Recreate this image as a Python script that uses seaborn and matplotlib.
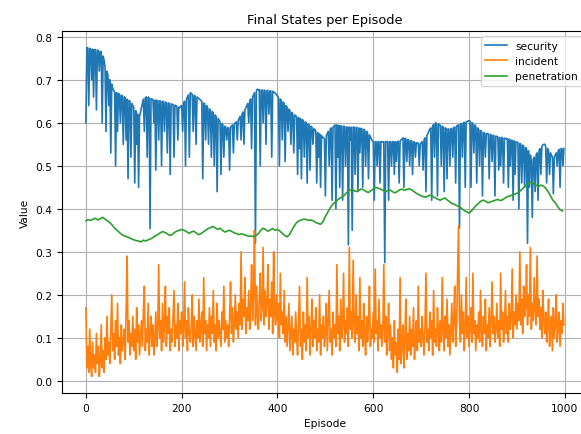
import numpy as np
import pandas as pd
import matplotlib
matplotlib.use("Agg")
import matplotlib.pyplot as plt
import seaborn as sns

sec_episodes = list(range(0, 1000, 2))
inc_episodes = list(range(0, 1000, 2))
pen_episodes = list(range(0, 1000, 5))

security = [
    0.60, 0.775, 0.774, 0.64, 0.773, 0.772, 0.70, 0.771, 0.66, 0.77,
    0.77, 0.63, 0.769, 0.768, 0.72, 0.766, 0.765, 0.60, 0.755, 0.745,
    0.73, 0.58, 0.72, 0.71, 0.64, 0.70, 0.53, 0.69, 0.68, 0.675,
    0.672, 0.50, 0.67, 0.58, 0.668, 0.666, 0.60, 0.664, 0.662, 0.55,
    0.66, 0.658, 0.56, 0.655, 0.47, 0.652, 0.65, 0.52, 0.645, 0.64,
    0.635, 0.46, 0.628, 0.55, 0.62, 0.45, 0.615, 0.625, 0.635, 0.645,
    0.655, 0.58, 0.658, 0.66, 0.52, 0.66, 0.658, 0.354, 0.656, 0.655,
    0.654, 0.60, 0.653, 0.49, 0.652, 0.652, 0.56, 0.651, 0.65, 0.50,
    0.65, 0.649, 0.58, 0.648, 0.647, 0.53, 0.646, 0.645, 0.48, 0.644,
    0.643, 0.642, 0.52, 0.641, 0.64, 0.638, 0.56, 0.636, 0.635, 0.638,
    0.64, 0.58, 0.645, 0.65, 0.50, 0.655, 0.66, 0.665, 0.52, 0.67,
    0.668, 0.666, 0.58, 0.664, 0.662, 0.55, 0.66, 0.658, 0.656, 0.654,
    0.652, 0.65, 0.47, 0.646, 0.644, 0.56, 0.64, 0.636, 0.55, 0.632,
    0.63, 0.52, 0.626, 0.622, 0.50, 0.618, 0.614, 0.44, 0.61, 0.606,
    0.602, 0.48, 0.598, 0.595, 0.52, 0.592, 0.59, 0.56, 0.588, 0.588,
    0.49, 0.59, 0.592, 0.595, 0.53, 0.598, 0.60, 0.602, 0.56, 0.605,
    0.61, 0.615, 0.56, 0.62, 0.625, 0.55, 0.63, 0.635, 0.64, 0.645,
    0.60, 0.65, 0.655, 0.54, 0.66, 0.665, 0.67, 0.32, 0.675, 0.678,
    0.677, 0.677, 0.50, 0.676, 0.676, 0.60, 0.676, 0.675, 0.55, 0.675,
    0.675, 0.62, 0.674, 0.674, 0.52, 0.673, 0.672, 0.67, 0.668, 0.665,
    0.662, 0.66, 0.50, 0.655, 0.652, 0.56, 0.648, 0.645, 0.51, 0.64,
    0.636, 0.58, 0.632, 0.628, 0.55, 0.624, 0.62, 0.53, 0.618, 0.616,
    0.614, 0.48, 0.612, 0.54, 0.61, 0.47, 0.607, 0.605, 0.52, 0.602,
    0.60, 0.46, 0.597, 0.595, 0.49, 0.592, 0.59, 0.55, 0.586, 0.584,
    0.58, 0.46, 0.577, 0.52, 0.574, 0.45, 0.57, 0.567, 0.565, 0.563,
    0.43, 0.57, 0.575, 0.58, 0.50, 0.585, 0.588, 0.42, 0.59, 0.592,
    0.595, 0.40, 0.595, 0.52, 0.594, 0.45, 0.593, 0.592, 0.42, 0.592,
    0.591, 0.50, 0.59, 0.59, 0.316, 0.59, 0.56, 0.59, 0.35, 0.59,
    0.59, 0.48, 0.589, 0.589, 0.44, 0.588, 0.53, 0.587, 0.586, 0.45,
    0.585, 0.583, 0.50, 0.58, 0.577, 0.47, 0.572, 0.567, 0.562, 0.558,
    0.556, 0.42, 0.556, 0.556, 0.50, 0.556, 0.556, 0.46, 0.556, 0.555,
    0.555, 0.556, 0.275, 0.556, 0.556, 0.556, 0.42, 0.556, 0.556, 0.50,
    0.556, 0.556, 0.48, 0.556, 0.51, 0.556, 0.557, 0.46, 0.558, 0.56,
    0.562, 0.565, 0.45, 0.564, 0.562, 0.51, 0.561, 0.56, 0.50, 0.558,
    0.558, 0.48, 0.556, 0.555, 0.52, 0.554, 0.553, 0.552, 0.50, 0.551,
    0.553, 0.556, 0.49, 0.56, 0.565, 0.44, 0.57, 0.575, 0.58, 0.585,
    0.588, 0.42, 0.592, 0.596, 0.52, 0.60, 0.598, 0.43, 0.597, 0.596,
    0.594, 0.50, 0.592, 0.59, 0.44, 0.588, 0.587, 0.47, 0.586, 0.585,
    0.50, 0.586, 0.587, 0.52, 0.588, 0.59, 0.46, 0.592, 0.594, 0.595,
    0.355, 0.597, 0.598, 0.52, 0.60, 0.601, 0.45, 0.602, 0.603, 0.604,
    0.605, 0.604, 0.45, 0.60, 0.598, 0.53, 0.595, 0.592, 0.46, 0.588,
    0.585, 0.50, 0.582, 0.58, 0.43, 0.577, 0.576, 0.52, 0.575, 0.575,
    0.574, 0.47, 0.573, 0.572, 0.51, 0.571, 0.57, 0.43, 0.569, 0.568,
    0.567, 0.49, 0.566, 0.50, 0.566, 0.565, 0.46, 0.564, 0.564, 0.563,
    0.563, 0.45, 0.562, 0.50, 0.56, 0.559, 0.42, 0.558, 0.48, 0.556,
    0.555, 0.554, 0.40, 0.552, 0.55, 0.46, 0.548, 0.546, 0.45, 0.542,
    0.54, 0.32, 0.535, 0.45, 0.525, 0.51, 0.38, 0.515, 0.52, 0.44,
    0.525, 0.53, 0.42, 0.535, 0.54, 0.48, 0.545, 0.548, 0.55, 0.55,
    0.545, 0.46, 0.54, 0.535, 0.48, 0.53, 0.525, 0.52, 0.435, 0.52,
    0.525, 0.53, 0.50, 0.535, 0.538, 0.45, 0.54, 0.54, 0.50, 0.54,
]

incident = [
    0.17, 0.03, 0.08, 0.02, 0.12, 0.04, 0.01, 0.09, 0.03, 0.06,
    0.02, 0.11, 0.04, 0.08, 0.01, 0.05, 0.13, 0.03, 0.07, 0.02,
    0.10, 0.05, 0.15, 0.06, 0.09, 0.04, 0.12, 0.20, 0.07, 0.11,
    0.05, 0.14, 0.08, 0.18, 0.06, 0.10, 0.04, 0.13, 0.07, 0.09,
    0.12, 0.05, 0.16, 0.29, 0.09, 0.14, 0.06, 0.11, 0.08, 0.15,
    0.07, 0.12, 0.05, 0.17, 0.09, 0.13, 0.06, 0.10, 0.14, 0.08,
    0.16, 0.22, 0.07, 0.12, 0.09, 0.18, 0.06, 0.11, 0.15, 0.08,
    0.13, 0.06, 0.10, 0.16, 0.08, 0.12, 0.27, 0.10, 0.14, 0.07,
    0.18, 0.09, 0.13, 0.22, 0.08, 0.15, 0.11, 0.17, 0.07, 0.12,
    0.09, 0.15, 0.21, 0.08, 0.13, 0.10, 0.18, 0.07, 0.14, 0.11,
    0.16, 0.08, 0.12, 0.23, 0.10, 0.14, 0.07, 0.17, 0.11, 0.09,
    0.13, 0.20, 0.08, 0.15, 0.11, 0.07, 0.14, 0.10, 0.19, 0.09,
    0.12, 0.16, 0.08, 0.24, 0.11, 0.14, 0.07, 0.13, 0.10, 0.17,
    0.08, 0.15, 0.11, 0.21, 0.09, 0.13, 0.07, 0.18, 0.10, 0.14,
    0.11, 0.08, 0.16, 0.12, 0.22, 0.09, 0.14, 0.10, 0.13, 0.08,
    0.15, 0.23, 0.11, 0.17, 0.09, 0.14, 0.20, 0.12, 0.16, 0.10,
    0.18, 0.13, 0.30, 0.12, 0.19, 0.15, 0.24, 0.11, 0.17, 0.14,
    0.21, 0.12, 0.18, 0.27, 0.14, 0.20, 0.35, 0.13, 0.22, 0.16,
    0.12, 0.19, 0.25, 0.14, 0.17, 0.31, 0.13, 0.21, 0.15, 0.18,
    0.27, 0.12, 0.19, 0.15, 0.23, 0.11, 0.30, 0.16, 0.13, 0.20,
    0.14, 0.18, 0.10, 0.25, 0.13, 0.16, 0.11, 0.21, 0.09, 0.15,
    0.08, 0.13, 0.18, 0.07, 0.11, 0.15, 0.06, 0.12, 0.09, 0.16,
    0.10, 0.06, 0.14, 0.22, 0.08, 0.12, 0.05, 0.16, 0.09, 0.13,
    0.07, 0.24, 0.10, 0.15, 0.06, 0.12, 0.19, 0.08, 0.14, 0.10,
    0.17, 0.07, 0.12, 0.09, 0.20, 0.06, 0.13, 0.10, 0.15, 0.08,
    0.11, 0.18, 0.07, 0.14, 0.21, 0.09, 0.12, 0.06, 0.16, 0.10,
    0.13, 0.08, 0.27, 0.11, 0.15, 0.07, 0.19, 0.10, 0.13, 0.25,
    0.09, 0.14, 0.11, 0.17, 0.08, 0.31, 0.12, 0.16, 0.10, 0.28,
    0.13, 0.09, 0.20, 0.11, 0.15, 0.07, 0.24, 0.10, 0.14, 0.08,
    0.18, 0.11, 0.06, 0.15, 0.09, 0.13, 0.22, 0.08, 0.12, 0.10,
    0.16, 0.09, 0.26, 0.11, 0.14, 0.07, 0.19, 0.10, 0.13, 0.08,
    0.12, 0.27, 0.09, 0.15, 0.06, 0.11, 0.18, 0.07, 0.13, 0.05,
    0.10, 0.03, 0.14, 0.06, 0.09, 0.02, 0.12, 0.05, 0.24, 0.04,
    0.08, 0.13, 0.03, 0.10, 0.19, 0.05, 0.11, 0.07, 0.15, 0.06,
    0.12, 0.08, 0.17, 0.05, 0.10, 0.14, 0.07, 0.22, 0.09, 0.12,
    0.08, 0.15, 0.10, 0.06, 0.13, 0.25, 0.09, 0.12, 0.07, 0.16,
    0.10, 0.14, 0.06, 0.21, 0.09, 0.12, 0.08, 0.17, 0.11, 0.07,
    0.14, 0.09, 0.24, 0.11, 0.07, 0.15, 0.10, 0.19, 0.08, 0.13,
    0.06, 0.12, 0.18, 0.09, 0.14, 0.22, 0.08, 0.13, 0.25, 0.36,
    0.14, 0.09, 0.20, 0.11, 0.16, 0.07, 0.13, 0.24, 0.10, 0.15,
    0.08, 0.12, 0.17, 0.09, 0.25, 0.11, 0.14, 0.07, 0.13, 0.10,
    0.16, 0.09, 0.21, 0.12, 0.08, 0.15, 0.11, 0.19, 0.07, 0.13,
    0.10, 0.17, 0.08, 0.14, 0.23, 0.11, 0.15, 0.09, 0.12, 0.18,
    0.10, 0.14, 0.08, 0.25, 0.12, 0.16, 0.09, 0.13, 0.21, 0.11,
    0.15, 0.09, 0.18, 0.12, 0.14, 0.26, 0.10, 0.16, 0.13, 0.20,
    0.12, 0.18, 0.14, 0.30, 0.13, 0.19, 0.11, 0.22, 0.15, 0.17,
    0.27, 0.13, 0.20, 0.15, 0.31, 0.12, 0.18, 0.14, 0.24, 0.16,
    0.13, 0.29, 0.15, 0.19, 0.12, 0.17, 0.10, 0.21, 0.14, 0.11,
    0.16, 0.09, 0.13, 0.19, 0.08, 0.12, 0.15, 0.07, 0.17, 0.10,
    0.13, 0.20, 0.09, 0.12, 0.16, 0.08, 0.14, 0.11, 0.18, 0.13,
]

penetration = [
    0.372, 0.375, 0.373, 0.376, 0.378, 0.374, 0.377, 0.380, 0.376, 0.372,
    0.368, 0.362, 0.355, 0.350, 0.345, 0.340, 0.337, 0.335, 0.333, 0.330,
    0.328, 0.326, 0.325, 0.323, 0.327, 0.325, 0.328, 0.330, 0.333, 0.337,
    0.340, 0.344, 0.347, 0.345, 0.342, 0.338, 0.340, 0.345, 0.348, 0.350,
    0.352, 0.350, 0.347, 0.343, 0.346, 0.348, 0.344, 0.340, 0.342, 0.346,
    0.350, 0.354, 0.356, 0.359, 0.356, 0.352, 0.355, 0.350, 0.346, 0.348,
    0.350, 0.347, 0.344, 0.342, 0.340, 0.342, 0.340, 0.338, 0.336, 0.337,
    0.335, 0.338, 0.342, 0.350, 0.355, 0.352, 0.348, 0.351, 0.354, 0.350,
    0.352, 0.348, 0.343, 0.338, 0.335, 0.340, 0.350, 0.360, 0.368, 0.372,
    0.374, 0.376, 0.375, 0.373, 0.374, 0.372, 0.368, 0.366, 0.364, 0.370,
    0.382, 0.392, 0.402, 0.410, 0.415, 0.420, 0.425, 0.427, 0.432, 0.438,
    0.443, 0.445, 0.442, 0.440, 0.443, 0.446, 0.444, 0.440, 0.438, 0.442,
    0.446, 0.450, 0.448, 0.446, 0.443, 0.440, 0.442, 0.444, 0.440, 0.437,
    0.440, 0.444, 0.446, 0.443, 0.445, 0.447, 0.444, 0.440, 0.436, 0.433,
    0.430, 0.428, 0.427, 0.430, 0.432, 0.428, 0.425, 0.422, 0.420, 0.423,
    0.425, 0.420, 0.416, 0.412, 0.410, 0.407, 0.405, 0.400, 0.396, 0.393,
    0.390, 0.395, 0.402, 0.408, 0.413, 0.418, 0.420, 0.417, 0.414, 0.416,
    0.418, 0.420, 0.422, 0.419, 0.421, 0.425, 0.428, 0.430, 0.432, 0.434,
    0.436, 0.440, 0.445, 0.450, 0.456, 0.460, 0.462, 0.458, 0.455, 0.452,
    0.455, 0.453, 0.448, 0.440, 0.430, 0.420, 0.414, 0.405, 0.398, 0.395,
]

sec_df = pd.DataFrame({"Episode": sec_episodes, "Value": security})
inc_df = pd.DataFrame({"Episode": inc_episodes, "Value": incident})
pen_df = pd.DataFrame({"Episode": pen_episodes, "Value": penetration})

plt.rcParams["font.size"] = 7.7

fig = plt.figure(figsize=(5.81, 4.35), dpi=100)
# the source screenshot cuts off the right edge of the axes
ax = fig.add_axes([0.1067, 0.0943, 0.905, 0.832])

sns.lineplot(data=sec_df, x="Episode", y="Value", label="security", ax=ax, linewidth=1.2)
sns.lineplot(data=inc_df, x="Episode", y="Value", label="incident", ax=ax, linewidth=1.2)
sns.lineplot(data=pen_df, x="Episode", y="Value", label="penetration", ax=ax, linewidth=1.2)

ax.set_title("Final States per Episode", fontsize=9.3)
ax.set_xlabel("Episode")
ax.set_ylabel("Value")
ax.grid(True)
ax.legend(loc="upper right", fontsize=7.7)

fig.savefig("out.png", dpi=100)
